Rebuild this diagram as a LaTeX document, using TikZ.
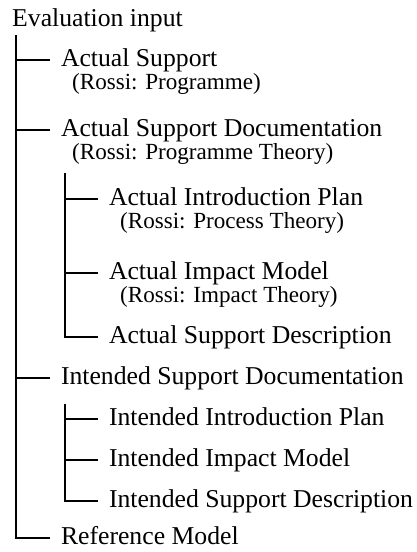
\documentclass[tikz,border=0pt]{standalone}
\usepackage{fontspec}
\setmainfont{Liberation Serif}
\begin{document}
\begin{tikzpicture}[x=1pt,y=-1pt,
  item/.style={anchor=west, inner sep=0pt, outer xsep=11pt, text height=18pt, text depth=6pt, font=\fontsize{25.7}{30}\selectfont},
  title/.style={anchor=base west, inner sep=0pt, font=\fontsize{25.7}{30}\selectfont},
  sub/.style={anchor=base west, inner sep=0pt, font=\fontsize{23.1}{28}\selectfont},
  conn/.style={line width=1.2pt}]
\useasboundingbox (0,0) rectangle (417,552);
% title
\node[title] (root) at (12,26) {Evaluation input};
\coordinate (v1) at (16,35);
% level 1
\node[item] (as)  at (50,60)  {Actual Support};
\node[sub]  (asr) at (72,89)  {(Rossi: Programme)};
\node[item] (asd) at (50,130) {Actual Support Documentation};
\node[sub]  (asdr) at (72,159) {(Rossi: Programme Theory)};
\node[item] (isd) at (50,378) {Intended Support Documentation};
\node[item] (ref) at (50,538) {Reference Model};
% level 2 (actual)
\coordinate (v2) at (65,173);
\node[item] (aip) at (98,199) {Actual Introduction Plan};
\node[sub]  (aipr) at (120,228) {(Rossi: Process Theory)};
\node[item] (aim) at (98,273) {Actual Impact Model};
\node[sub]  (aimr) at (120,302) {(Rossi: Impact Theory)};
\node[item] (asdesc) at (98,337) {Actual Support Description};
% level 2 (intended)
\coordinate (v3) at (65,404);
\node[item] (iip) at (98,419) {Intended Introduction Plan};
\node[item] (iim) at (98,460) {Intended Impact Model};
\node[item] (isdesc) at (98,501) {Intended Support Description};
% connectors
\draw[conn] (v1) |- (ref.west);
\draw[conn] (v1 |- as.west) -- (as.west);
\draw[conn] (v1 |- asd.west) -- (asd.west);
\draw[conn] (v1 |- isd.west) -- (isd.west);
\draw[conn] (v2) |- (asdesc.west);
\draw[conn] (v2 |- aip.west) -- (aip.west);
\draw[conn] (v2 |- aim.west) -- (aim.west);
\draw[conn] (v3) |- (isdesc.west);
\draw[conn] (v3 |- iip.west) -- (iip.west);
\draw[conn] (v3 |- iim.west) -- (iim.west);
\end{tikzpicture}
\end{document}
